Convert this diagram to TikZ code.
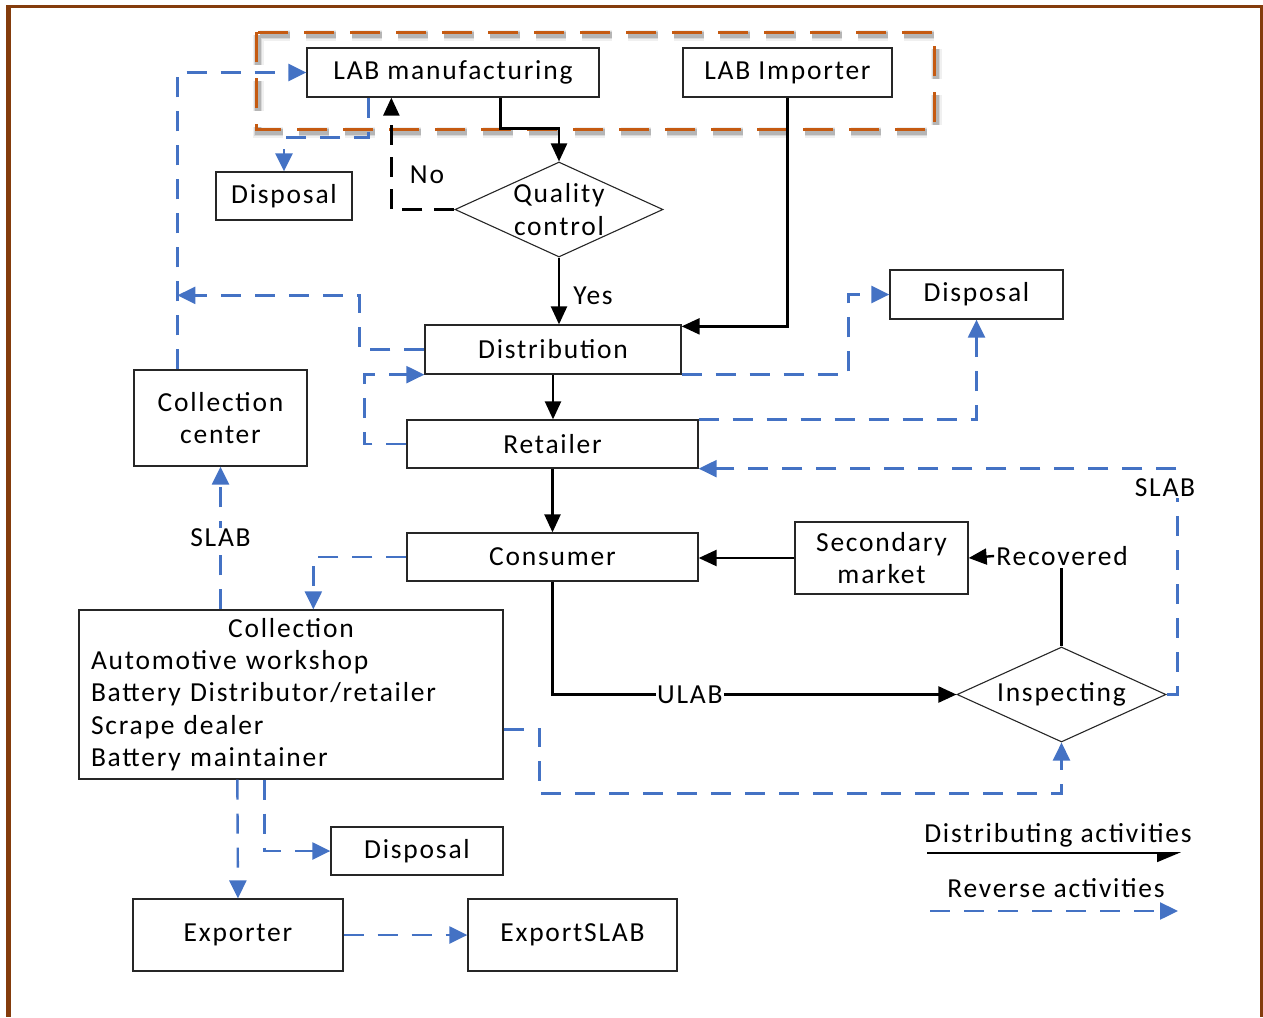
\documentclass[tikz,border=0pt]{standalone}
\usepackage{fontspec}
\setmainfont{Carlito}[LetterSpace=6.5]
\usetikzlibrary{arrows.meta,calc,shapes.geometric}
\definecolor{revblue}{RGB}{68,114,196}
\definecolor{frameorange}{RGB}{197,90,17}
\definecolor{framebrown}{RGB}{132,60,12}
\begin{document}
\begin{tikzpicture}[x=1pt,y=-1pt,
  every node/.style={font=\fontsize{27.5}{32.3}\selectfont, inner sep=2pt},
  box/.style={draw=black!85, line width=1.3pt, fill=white, rectangle, align=center},
  decision/.style={draw=black!85, line width=1.1pt, fill=white, diamond, aspect=2.2,
    inner sep=0pt, align=center, minimum width=208pt, minimum height=95pt},
  lbl/.style={fill=white, inner sep=1pt},
  fwd/.style={draw=black, line width=2.4pt, -{Triangle[length=18pt,width=16pt]}},
  fwdplain/.style={draw=black, line width=2.4pt},
  fwddash/.style={fwd, dash pattern=on 20pt off 12pt},
  rev/.style={draw=revblue, line width=2.4pt, dash pattern=on 20pt off 14pt,
    -{Triangle[length=18pt,width=17pt]}},
  groupframe/.style={line width=3pt, dash pattern=on 30pt off 16pt}
]
\useasboundingbox (0,0) rectangle (1263,1017);

% outer frame
\fill[framebrown] (6,5) rectangle (10.5,1017);
\fill[framebrown] (6,5) rectangle (1263,8);
\fill[framebrown] (1260,5) rectangle (1263,1017);

% producer group: soft shadow, then orange dashed outline
\foreach \w/\o in {11/0.06, 8/0.10, 5.5/0.16} {
  \draw[groupframe, line width=\w pt, black, opacity=\o] (258,35) rectangle (936,132);
}
\draw[groupframe, frameorange] (256,32) rectangle (934,129);

% nodes
\node[box, minimum width=292pt, minimum height=49pt] (labm) at (453,72.5) {LAB manufacturing};
\node[box, minimum width=209pt, minimum height=49pt] (labi) at (787.5,72.5) {LAB Importer};
\node[box, minimum width=136pt, minimum height=48pt] (disp1) at (284,196) {Disposal};
\node[decision] (qc) at (559,209.5) {Quality\\control};
\node[box, minimum width=256pt, minimum height=49pt] (dist) at (553,349.5) {Distribution};
\node[box, minimum width=173pt, minimum height=49pt] (disp2) at (976.5,294.5) {Disposal};
\node[box, minimum width=291pt, minimum height=48pt] (ret) at (552.5,444) {Retailer};
\node[box, minimum width=173pt, minimum height=96pt] (cc) at (220.5,418) {Collection\\center};
\node[box, minimum width=291pt, minimum height=48pt] (cons) at (552.5,557) {Consumer};
\node[box, minimum width=173pt, minimum height=72pt] (sec) at (881.5,558) {Secondary\\market};
\node[box, minimum width=424pt, minimum height=169pt, text width=400pt, align=left] (coll) at (291,694.5)
  {\makebox[\linewidth][c]{Collection}\\Automotive workshop\\Battery Distributor/retailer\\Scrape dealer\\Battery maintainer};
\node[decision, minimum width=209pt] (insp) at (1061.5,694.5) {Inspecting};
\node[box, minimum width=172pt, minimum height=48pt] (disp3) at (417,851) {Disposal};
\node[box, minimum width=210pt, minimum height=72pt] (exp) at (238,935) {Exporter};
\node[box, minimum width=209pt, minimum height=72pt] (exps) at (572.5,935) {ExportSLAB};

\node (no) at (427,175) {No};
\node (yes) at (593,296) {Yes};
\node (rec) at (1062,556) {Recovered};

% distributing activities
\draw[fwd] ($(labm.south west)+(194,0)$) |- ($(qc.north)+(0,-33)$) -- (qc.north);
\draw[fwddash] (qc.west) -| ($(labm.south west)+(85,0)$);
\draw[fwd] (qc.south) -- (qc.south |- dist.north);
\draw[fwd] (labi.south) |- ($(dist.north east)+(0,2)$);
\draw[fwd] (dist.south) -- (dist.south |- ret.north);
\draw[fwd] (ret.south) -- (cons.north);
\draw[fwd] (sec.west) -- (sec.west -| cons.east);
\draw[fwdplain] (insp.north) -- (insp.north |- rec.south);
\draw[fwd] (rec.west) -- (sec.east);
\draw[fwd] (cons.south) |- node[lbl, pos=0.67] (ulab) {ULAB} (insp.west);

% reverse activities
\draw[rev] ($(cc.north west)+(44,0)$) |- (labm.west);
\draw[rev] (dist.west) -- ++(-65,0) |- ($(cc.north west)+(44,-74)$);
\draw[rev] (ret.west) -- ++(-42,0) |- (dist.south west);
\draw[rev] (dist.south east) -| ($(disp2.west)+(-41,0)$) -- (disp2.west);
\draw[rev] (ret.north east) -| (disp2.south);
\draw[rev] (insp.east) -- ++(11,0) |- (ret.south east);
\node[lbl] (slabr) at (1165,488) {SLAB};
\draw[rev] ($(labm.south west)+(62,0)$) |- ($(disp1.north)+(0,-34)$) -- (disp1.north);
\draw[rev] (cons.west) -| ($(coll.north west)+(235,0)$);
\draw[rev] (cc.south |- coll.north) -- node[lbl] (slabl) {SLAB} (cc.south);
\draw[rev] ($(coll.north east)+(0,120)$) -- ++(36,0) |- ($(insp.south)+(0,51)$) -- (insp.south);
\draw[rev] ($(coll.south west)+(159,0)$) -- (exp.north);
\draw[rev] ($(coll.south west)+(186,0)$) |- (disp3.west);
\draw[rev] (exp.east) -- (exps.west);

% legend
\node (legfwd) at (1058,835) {Distributing activities};
\coordinate (lfa) at (927,853);
\coordinate (lfb) at (1181,853);
\draw[black, line width=1.6pt, -{Triangle[harpoon,swap,length=22pt,width=18pt]}] (lfa) -- (lfb);
\node (legrev) at (1056,888) {Reverse activities};
\coordinate (lra) at (930,911);
\coordinate (lrb) at (1178,911);
\draw[rev] (lra) -- (lrb);
\end{tikzpicture}
\end{document}
